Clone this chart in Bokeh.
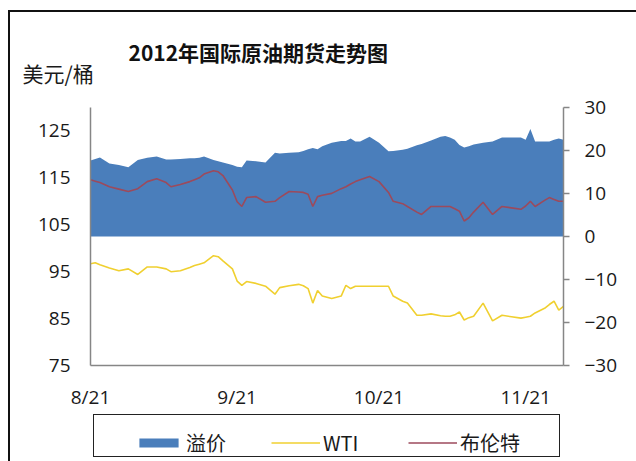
from bokeh.plotting import figure
from bokeh.layouts import column
from bokeh.models import (Range1d, LinearAxis, FixedTicker, Legend, Label,
                          LegendItem, ColumnDataSource, InlineStyleSheet)
from bokeh.embed import file_html
from bokeh.resources import INLINE

# ---- data (days counted from 2012-08-21) ----
days = [0, 1, 2, 4, 6, 8, 10, 12, 14, 16, 17, 19, 21, 22, 23, 24, 26, 27, 28, 30,
        31, 32, 33, 35, 37, 39, 40, 42, 44, 45, 46, 47, 48, 49, 51, 53, 54, 55, 56, 57,
        59, 61, 63, 64, 66, 67, 69, 70, 72, 74, 75, 76, 77, 78, 79, 80, 81, 83, 85, 87,
        89, 91, 92, 93, 94, 96, 97, 98, 99, 100]
brent = [114.6, 114.3, 114.0, 113.1, 112.6, 112.1, 112.7, 114.2, 114.8, 114.0, 113.1, 113.6,
         114.2, 114.6, 115.0, 115.8, 116.5, 116.3, 115.5, 112.4,
         109.9, 108.9, 110.8, 111.0, 109.8, 110.0, 110.8, 112.1, 112.0, 111.9, 111.5, 108.9,
         111.0, 111.3, 111.7, 112.7, 113.1, 113.7, 114.2, 114.6,
         115.3, 114.2, 111.9, 110.0, 109.5, 108.9, 107.7, 107.2, 108.9, 108.9, 108.9, 108.9,
         108.4, 107.9, 105.8, 106.5, 107.7, 109.8, 107.2, 108.9,
         108.6, 108.3, 109.0, 110.0, 108.9, 110.2, 110.8, 110.4, 110.0, 110.0]
wti = [96.7, 96.9, 96.5, 95.8, 95.2, 95.6, 94.4, 96.0, 96.0, 95.6, 95.0, 95.2,
       95.9, 96.3, 96.6, 96.9, 98.4, 98.2, 97.3, 95.6,
       93.0, 92.1, 92.9, 92.5, 91.9, 90.2, 91.6, 92.0, 92.3, 92.0, 91.4, 88.3,
       91.0, 89.8, 89.3, 89.8, 92.1, 91.4, 91.9, 91.9,
       91.9, 91.9, 91.9, 89.8, 88.7, 88.3, 85.7, 85.7, 86.0, 85.6, 85.5, 85.5,
       85.8, 86.4, 84.7, 85.2, 85.5, 88.3, 84.5, 85.7,
       85.4, 85.1, 85.3, 85.5, 86.2, 87.2, 88.0, 88.7, 86.8, 87.6]
premium = [17.7, 18.0, 18.4, 17.0, 16.6, 16.1, 17.8, 18.3, 18.6, 17.9, 17.9, 18.0,
           18.2, 18.2, 18.3, 18.6, 17.8, 17.5, 17.2, 16.6,
           16.2, 16.1, 17.7, 17.5, 17.2, 19.5, 19.3, 19.5, 19.6, 19.9, 20.3, 20.6,
           20.3, 21.0, 21.8, 22.2, 22.2, 22.8, 22.1, 22.1,
           23.2, 21.8, 19.8, 19.9, 20.2, 20.4, 21.2, 21.5, 22.3, 23.2, 23.4, 23.0,
           22.5, 21.3, 20.7, 21.0, 21.4, 21.8, 22.1, 23.0,
           23.0, 23.0, 22.5, 25.0, 22.1, 22.1, 22.1, 22.5, 22.8, 22.5]

x_tick_days = [0, 31, 61, 92]
x_tick_labels = ["8/21", "9/21", "10/21", "11/21"]
left_ticks = [75, 85, 95, 105, 115, 125]
right_ticks = [-30, -20, -10, 0, 10, 20, 30]

title_text = "2012年国际原油期货走势图"
unit_text = "美元/桶"
series_names = ["溢价", "WTI", "布伦特"]

src = ColumnDataSource(dict(day=days, brent=brent, wti=wti, premium=premium))

CJK = "Noto Sans CJK SC"
NUM = "Open Sans"
AXIS_GRAY = "#868686"
TXT = "#1a1a1a"
AREA_COLOR = "#4a7ebb"
WTI_COLOR = "#f0d030"
BRENT_COLOR = "#9c4a5c"
W = 636


def plain_panel(height, css, xr=(0, 1), yr=(0, 1)):
    f = figure(width=W, height=height, output_backend="svg", toolbar_location=None,
               x_range=Range1d(*xr), y_range=Range1d(*yr),
               x_axis_location=None, y_axis_location=None, title=None,
               min_border=0, min_border_left=0, min_border_right=0,
               min_border_top=0, min_border_bottom=0, frame_align=False,
               outline_line_color=None, background_fill_color="white",
               border_fill_color="white", stylesheets=[InlineStyleSheet(css=css)])
    f.grid.visible = False
    return f


# ---------- header: title and unit ----------
HEAD_H = 90
head_css = """
:host { position: relative; }
:host::before { content: ""; position: absolute; left: 8px; top: 10px; width: 628px;
  height: 80px; border-left: 2px solid #111; border-top: 2px solid #111;
  box-sizing: border-box; pointer-events: none; z-index: 5; }
"""
head = plain_panel(HEAD_H, head_css)
head.add_layout(Label(x=128, y=HEAD_H - 51, x_units="screen", y_units="screen",
                      text=title_text, text_align="left", text_baseline="middle",
                      text_font=CJK, text_font_size="21px", text_font_style="bold",
                      text_color="#111111"))
head.add_layout(Label(x=22, y=HEAD_H - 72, x_units="screen", y_units="screen",
                      text=unit_text, text_align="left", text_baseline="middle",
                      text_font=CJK, text_font_size="21px", text_color=TXT))

# ---------- main chart ----------
main_css = """
:host { position: relative; }
:host::before { content: ""; position: absolute; left: 8px; top: 0px; width: 2px;
  height: 100%; background: #111; pointer-events: none; z-index: 5; }
"""
p = figure(width=W, height=322, output_backend="svg", toolbar_location=None,
           x_range=Range1d(0, 100), y_range=Range1d(75, 130),
           min_border_left=90, min_border_right=73, min_border_top=17,
           min_border_bottom=44, background_fill_color="white", frame_align=False,
           border_fill_color="white", outline_line_color=None, title=None,
           stylesheets=[InlineStyleSheet(css=main_css)])
p.grid.visible = False
p.extra_y_ranges = {"prem": Range1d(-30, 30)}

xa = p.xaxis[0]
xa.ticker = FixedTicker(ticks=x_tick_days)
xa.major_label_overrides = {d: l for d, l in zip(x_tick_days, x_tick_labels)}
xa.major_tick_out = 0
xa.major_tick_in = 0
xa.minor_tick_out = 0
xa.minor_tick_in = 0
xa.axis_line_color = AXIS_GRAY
xa.axis_line_width = 1.5
xa.major_label_standoff = 18
xa.major_label_text_font = NUM
xa.major_label_text_font_size = "19px"
xa.major_label_text_color = TXT

ya = p.yaxis[0]
ya.ticker = FixedTicker(ticks=left_ticks)
ya.major_tick_out = 0
ya.major_tick_in = 0
ya.minor_tick_out = 0
ya.minor_tick_in = 0
ya.axis_line_color = AXIS_GRAY
ya.axis_line_width = 1.5
ya.major_label_standoff = 20
ya.major_label_text_font = NUM
ya.major_label_text_font_size = "19px"
ya.major_label_text_color = TXT

ra = LinearAxis(y_range_name="prem", ticker=FixedTicker(ticks=right_ticks),
                major_tick_out=6, major_tick_in=0, minor_tick_out=0, minor_tick_in=0,
                axis_line_color=AXIS_GRAY, axis_line_width=1.5,
                major_tick_line_color=AXIS_GRAY, major_tick_line_width=1.5,
                major_label_standoff=15, major_label_text_font=NUM,
                major_label_text_font_size="19px", major_label_text_color=TXT)
p.add_layout(ra, "right")

p.varea(x="day", y1=0, y2="premium", source=src, y_range_name="prem",
        fill_color=AREA_COLOR)
p.line(x="day", y="wti", source=src, line_color=WTI_COLOR, line_width=1.6)
p.line(x="day", y="brent", source=src, line_color=BRENT_COLOR, line_width=1.6)

# ---------- legend strip (same series, ranges chosen so no data shows) ----------
LEG_H = 49
leg_css = """
:host { position: relative; }
:host::before { content: ""; position: absolute; left: 8px; top: 0px; width: 2px;
  height: 100%; background: #111; pointer-events: none; z-index: 5; }
:host::after { content: ""; position: absolute; left: 93px; top: 2px; width: 467px;
  height: 43px; border: 1.5px solid #222; box-sizing: border-box;
  pointer-events: none; z-index: 5; }
"""
leg = plain_panel(LEG_H, leg_css, xr=(-3, -2), yr=(-3, -2))
r_area = leg.varea(x="day", y1=0, y2="premium", source=src, fill_color=AREA_COLOR)
r_wti = leg.line(x="day", y="wti", source=src, line_color=WTI_COLOR, line_width=1.6)
r_brent = leg.line(x="day", y="brent", source=src, line_color=BRENT_COLOR,
                   line_width=1.6)
legend = Legend(items=[LegendItem(label=series_names[0], renderers=[r_area]),
                       LegendItem(label=series_names[1], renderers=[r_wti]),
                       LegendItem(label=series_names[2], renderers=[r_brent])],
                location=(134, 4), orientation="horizontal",
                glyph_width=49, glyph_height=11, label_standoff=3, label_width=85,
                label_height=20, spacing=0, padding=0, margin=0,
                border_line_alpha=0, background_fill_alpha=0,
                label_text_font=CJK, label_text_font_size="20px",
                label_text_color=TXT)
leg.add_layout(legend)

layout = column(head, p, leg, spacing=0)
open("out.html", "w").write(file_html(layout, INLINE))
